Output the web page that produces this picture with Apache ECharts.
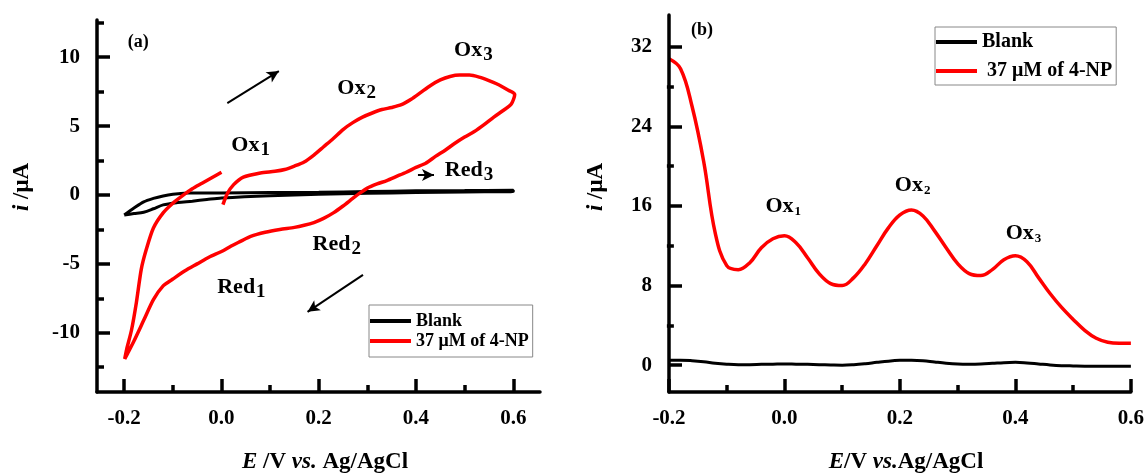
<!DOCTYPE html>
<html>
<head>
<meta charset="utf-8">
<script src="https://cdn.jsdelivr.net/npm/echarts@6.0.0/dist/echarts.min.js"></script>
<style>
html,body{margin:0;padding:0;background:#fff;}
#chart{width:1147px;height:475px;}
</style>
</head>
<body>
<div id="chart"></div>
<script>
// ---------- Panel (a): cyclic voltammograms ----------
const cvBlankE = [-0.2,-0.18,-0.16,-0.14,-0.12,-0.09,-0.06,-0.03,0,0.1,0.2,0.3,0.4,0.5,0.6,
                  0.6,0.5,0.4,0.3,0.2,0.1,0,-0.04,-0.07,-0.1,-0.12,-0.14,-0.16,-0.18,-0.2];
const cvBlankI = [-1.45,-1.35,-1.25,-1.0,-0.72,-0.55,-0.45,-0.33,-0.22,-0.05,0.05,0.12,0.18,0.22,0.25,
                  0.35,0.32,0.3,0.25,0.2,0.18,0.15,0.15,0.14,0.05,-0.07,-0.25,-0.5,-0.95,-1.45];
const cvNpE = [0.003,0.012,0.025,0.045,0.08,0.11,0.13,0.15,0.17,0.19,0.21,0.23,0.25,0.27,0.29,0.31,0.33,0.35,0.37,0.39,0.41,0.43,0.45,0.47,0.49,0.51,0.53,0.55,0.57,0.59,0.603,
               0.596,0.58,0.56,0.54,0.52,0.50,0.48,0.46,0.44,0.42,0.40,0.38,0.36,0.34,0.32,0.30,0.285,0.27,0.25,0.23,0.21,0.19,0.17,0.15,0.12,0.09,0.06,0.04,0.02,0.0,-0.025,-0.05,-0.075,-0.1,-0.12,-0.14,-0.16,-0.18,-0.193,-0.199,
               -0.195,-0.185,-0.175,-0.165,-0.155,-0.14,-0.12,-0.1,-0.08,-0.06,-0.04,-0.02,0.0];
const cvNpI = [-0.7,0.1,0.75,1.3,1.6,1.72,1.85,2.1,2.4,2.9,3.5,4.1,4.75,5.25,5.65,5.95,6.2,6.35,6.55,6.95,7.45,7.95,8.35,8.6,8.7,8.7,8.55,8.3,8.0,7.6,7.3,
               6.6,6.15,5.65,5.1,4.6,4.2,3.75,3.25,2.8,2.3,2.0,1.65,1.35,1.05,0.8,0.5,0.15,-0.25,-0.8,-1.3,-1.7,-2.0,-2.2,-2.35,-2.5,-2.7,-3.0,-3.35,-3.7,-4.1,-4.5,-5.0,-5.5,-6.1,-6.6,-7.6,-9.1,-10.6,-11.5,-11.9,
               -11.2,-9.8,-7.8,-5.4,-4.0,-2.4,-1.3,-0.6,-0.05,0.45,0.85,1.25,1.65];
const aMajorX = [-0.2,0,0.2,0.4,0.6];
const aMinorX = [-0.1,0.1,0.3,0.5];
const aMajorY = [-10,-5,0,5,10];
const aMinorY = [-12.5,-7.5,-2.5,2.5,7.5,12.5];
const aLabels = [
  {name:'{p|(a)}', value:[-0.171,11.1]},
  {name:'{b|Ox}{s1|1}', value:[0.06,3.6]},
  {name:'{b|Ox}{s1|2}', value:[0.278,7.75]},
  {name:'{b|Ox}{s1|3}', value:[0.518,10.5]},
  {name:'{b|Red}{s1|3}', value:[0.509,1.8]},
  {name:'{b|Red}{s1|2}', value:[0.237,-3.6]},
  {name:'{b|Red}{s1|1}', value:[0.041,-6.7]}
];
const aArrows = [
  [[0.012,6.67],[0.118,8.99]],
  [[0.291,-5.8],[0.177,-8.48]],
  [[0.404,1.45],[0.437,1.45]]
];

// ---------- Panel (b): differential pulse voltammograms ----------
const dpvE = [-0.2,-0.18,-0.16,-0.14,-0.12,-0.1,-0.08,-0.06,-0.04,-0.02,0,0.02,0.04,0.06,0.08,0.1,0.12,0.14,0.16,0.18,0.2,0.22,0.24,0.26,0.28,0.3,0.32,0.34,0.36,0.38,0.4,0.42,0.44,0.46,0.48,0.5,0.52,0.54,0.56,0.58,0.6];
const dpvBlank = [0.5,0.5,0.45,0.35,0.2,0.1,0.05,0.05,0.08,0.1,0.12,0.1,0.08,0.05,0.02,0.0,0.05,0.15,0.28,0.4,0.48,0.5,0.45,0.32,0.2,0.12,0.1,0.12,0.18,0.25,0.28,0.22,0.12,0.02,-0.05,-0.08,-0.1,-0.1,-0.1,-0.1,-0.1];
const dpvNp = [30.8,29.8,26.0,20.5,13.3,10.0,9.6,10.3,11.8,12.7,13.0,12.3,10.8,9.2,8.2,8.0,8.8,10.2,12.0,13.8,15.1,15.6,15.0,13.5,11.8,10.2,9.2,9.0,9.6,10.6,11.0,10.4,8.8,7.2,5.8,4.6,3.5,2.7,2.3,2.2,2.2];
const bMajorX = [-0.2,0,0.2,0.4,0.6];
const bMinorX = [-0.1,0.1,0.3,0.5];
const bMajorY = [0,8,16,24,32];
const bMinorY = [4,12,20,28];
const bLabels = [
  {name:'{p|(b)}', value:[-0.143,33.7]},
  {name:'{b|Ox}{s2|1}', value:[-0.002,16.0]},
  {name:'{b|Ox}{s2|2}', value:[0.222,18.1]},
  {name:'{b|Ox}{s2|3}', value:[0.414,13.3]}
];

const seriesNames = ['Blank','37 μM of 4-NP'];

// ---------- helpers ----------
const FONT = 'Liberation Serif';
const zip = (a,b) => a.map((v,i)=>[v,b[i]]);
const gridA = {left:97, top:20, width:443, height:372};
const gridB = {left:669, top:15, width:464, height:377};
const AX = {color:'#000', width:3.5, opacity:1, type:'solid'};

function majorX(grid, min, max, vals){
  return {gridIndex:grid, type:'value', min:min, max:max, position:'bottom', z:10,
    axisLine:{show:true, onZero:false, lineStyle:Object.assign({cap:'round'}, AX)},
    axisTick:{show:true, inside:true, length:13, lineStyle:AX, customValues:vals},
    axisLabel:{show:true, customValues:vals, formatter:v=>Number(v).toFixed(1), fontFamily:FONT, fontWeight:'bold', fontSize:21, color:'#000', margin:16},
    splitLine:{show:false}};
}
function minorX(grid, min, max, vals, h){
  return {gridIndex:grid, type:'value', min:min, max:max, position:'top', offset:-h, z:10,
    axisLine:{show:false, onZero:false},
    axisTick:{show:true, inside:false, length:7, lineStyle:AX, customValues:vals},
    axisLabel:{show:false}, splitLine:{show:false}};
}
function majorY(grid, min, max, vals){
  return {gridIndex:grid, type:'value', min:min, max:max, position:'left', z:10,
    axisLine:{show:true, onZero:false, lineStyle:Object.assign({cap:'round'}, AX)},
    axisTick:{show:true, inside:true, length:13, lineStyle:AX, customValues:vals},
    axisLabel:{show:true, customValues:vals, fontFamily:FONT, fontWeight:'bold', fontSize:21, color:'#000', margin:17},
    splitLine:{show:false}};
}
function minorY(grid, min, max, vals, w){
  return {gridIndex:grid, type:'value', min:min, max:max, position:'right', offset:-w, z:10,
    axisLine:{show:false, onZero:false},
    axisTick:{show:true, inside:false, length:7, lineStyle:AX, customValues:vals},
    axisLabel:{show:false}, splitLine:{show:false}};
}
const richText = {
  p:{fontFamily:FONT, fontWeight:'bold', fontSize:18, color:'#000'},
  b:{fontFamily:FONT, fontWeight:'bold', fontSize:22, color:'#000'},
  s1:{fontFamily:FONT, fontWeight:'bold', fontSize:19, color:'#000', padding:[10,0,0,1]},
  s2:{fontFamily:FONT, fontWeight:'bold', fontSize:13, color:'#000', padding:[12,0,0,1]}
};
function labelSeries(xi, yi, items){
  return {type:'scatter', xAxisIndex:xi, yAxisIndex:yi, symbolSize:0, silent:true, z:5,
    itemStyle:{opacity:1},
    data:items.map(d=>({name:d.name, value:d.value})),
    label:{show:true, position:'inside', color:'#000', opacity:1, fontFamily:FONT, fontWeight:'bold',
      formatter:p=>p.name, rich:richText, fontSize:22}};
}

const option = {
  animation:false,
  backgroundColor:'#fff',
  grid:[gridA, gridB],
  xAxis:[
    majorX(0,-0.256,0.655,aMajorX), minorX(0,-0.256,0.655,aMinorX,gridA.height),
    majorX(1,-0.2,0.6,bMajorX), minorX(1,-0.2,0.6,bMinorX,gridB.height)
  ],
  yAxis:[
    majorY(0,-14.3,12.7,aMajorY), minorY(0,-14.3,12.7,aMinorY,gridA.width),
    majorY(1,-2.7,35.2,bMajorY), minorY(1,-2.7,35.2,bMinorY,gridB.width)
  ],
  legend:[
    {data:seriesNames, left:369, top:305, orient:'vertical', align:'left', icon:'rect',
     itemWidth:41, itemHeight:4, itemGap:2, padding:[7,4,7,1],
     borderColor:'#888', borderWidth:1, backgroundColor:'#fff',
     textStyle:{fontFamily:FONT, fontWeight:'bold', fontSize:18, color:'#000'}},
    {data:seriesNames, left:935, top:27, orient:'vertical', align:'left', icon:'rect',
     itemWidth:41, itemHeight:4, itemGap:9, padding:[5,4,4,1],
     borderColor:'#888', borderWidth:1, backgroundColor:'#fff',
     formatter:n=> n===seriesNames[1] ? ' '+n : n,
     textStyle:{fontFamily:FONT, fontWeight:'bold', fontSize:20, color:'#000'}}
  ],
  series:[
    {name:seriesNames[0], type:'line', xAxisIndex:0, yAxisIndex:0, data:zip(cvBlankE,cvBlankI),
     showSymbol:false, smooth:0.3, lineStyle:{color:'#000', width:3}, itemStyle:{color:'#000'}},
    {name:seriesNames[1], type:'line', xAxisIndex:0, yAxisIndex:0, data:zip(cvNpE,cvNpI),
     showSymbol:false, smooth:0.25, lineStyle:{color:'#f00', width:3.5}, itemStyle:{color:'#f00'}},
    {name:seriesNames[0], type:'line', xAxisIndex:2, yAxisIndex:2, data:zip(dpvE,dpvBlank),
     showSymbol:false, smooth:0.4, lineStyle:{color:'#000', width:3}, itemStyle:{color:'#000'}},
    {name:seriesNames[1], type:'line', xAxisIndex:2, yAxisIndex:2, data:zip(dpvE,dpvNp),
     showSymbol:false, smooth:0.4, lineStyle:{color:'#f00', width:3.5}, itemStyle:{color:'#f00'}},
    Object.assign(labelSeries(0,0,aLabels), {
      markLine:{silent:true, symbol:['none','arrow'], symbolSize:[9,12], animation:false,
        label:{show:false}, lineStyle:{color:'#000', width:2, type:'solid', opacity:1},
        emphasis:{disabled:true},
        data:aArrows.map(a=>[{coord:a[0]},{coord:a[1]}])}
    }),
    labelSeries(2,2,bLabels)
  ],
  graphic:[
    {type:'text', x:325, y:462, style:{text:'{e|E} /V {v|vs.} Ag/AgCl', align:'center', verticalAlign:'middle',
      fontFamily:FONT, fontWeight:'bold', fontSize:23, fill:'#000',
      rich:{e:{fontFamily:FONT, fontWeight:'bold', fontStyle:'italic', fontSize:23}, v:{fontFamily:FONT, fontWeight:'bold', fontStyle:'italic', fontSize:23}}}},
    {type:'text', x:906, y:462, style:{text:'{e|E}/V {v|vs.}Ag/AgCl', align:'center', verticalAlign:'middle',
      fontFamily:FONT, fontWeight:'bold', fontSize:23, fill:'#000',
      rich:{e:{fontFamily:FONT, fontWeight:'bold', fontStyle:'italic', fontSize:23}, v:{fontFamily:FONT, fontWeight:'bold', fontStyle:'italic', fontSize:23}}}},
    {type:'text', x:22, y:187, rotation:Math.PI/2, style:{text:'{i|i} /μA', align:'center', verticalAlign:'middle',
      fontFamily:FONT, fontWeight:'bold', fontSize:23, fill:'#000',
      rich:{i:{fontFamily:FONT, fontWeight:'bold', fontStyle:'italic', fontSize:23}}}},
    {type:'text', x:596, y:187, rotation:Math.PI/2, style:{text:'{i|i} /μA', align:'center', verticalAlign:'middle',
      fontFamily:FONT, fontWeight:'bold', fontSize:23, fill:'#000',
      rich:{i:{fontFamily:FONT, fontWeight:'bold', fontStyle:'italic', fontSize:23}}}}
  ]
};

const chart = echarts.init(document.getElementById('chart'), null, {renderer:'canvas'});
chart.setOption(option);
</script>
</body>
</html>
